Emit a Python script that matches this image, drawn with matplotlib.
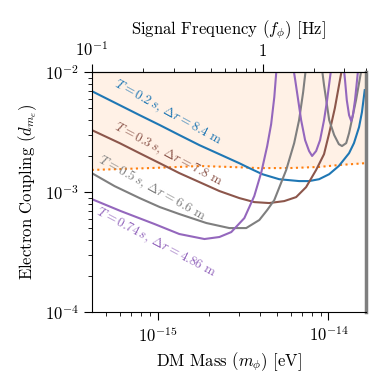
import numpy as np
import matplotlib
matplotlib.use('Agg')
import matplotlib.pyplot as plt
from matplotlib.ticker import NullFormatter

plt.rcParams['font.family'] = 'serif'
plt.rcParams['font.serif'] = ['cmr10']
plt.rcParams['mathtext.fontset'] = 'cm'
plt.rcParams['axes.unicode_minus'] = False
plt.rcParams['axes.formatter.use_mathtext'] = True

# mass in units of 1e-15 eV, coupling in units of 1e-3
# T = 0.2 s
m_blue = [0.412, 0.459, 0.600, 0.785, 1.03, 1.34, 1.76, 2.30, 3.01, 3.44, 4.10,
          5.15, 6.73, 7.70, 8.81, 10.1, 11.5, 13.2, 14.1, 15.1, 15.7, 16.3]
d_blue = [6.95, 6.43, 5.31, 4.38, 3.62, 2.99, 2.46, 2.07, 1.74, 1.585, 1.41,
          1.28, 1.235, 1.235, 1.28, 1.41, 1.65, 2.11, 2.56, 3.48, 4.64, 7.08]

# T = 0.3 s
m_brown = [0.412, 0.600, 0.785, 1.03, 1.34, 1.76, 2.30, 3.01, 3.68, 4.50, 5.51,
           6.47, 7.40, 8.47, 9.42, 10.1, 10.9, 11.9, 12.2]
d_brown = [3.29, 2.56, 2.11, 1.74, 1.44, 1.21, 1.02, 0.891, 0.825, 0.810, 0.841,
           0.908, 1.10, 1.53, 2.07, 3.10, 5.01, 10.0, 12.6]

# T = 0.5 s (two branches)
m_gray = [0.412, 0.561, 0.785, 1.03, 1.34, 1.93, 2.63, 3.30, 3.94, 4.38, 4.82,
          5.66, 6.30, 6.73, 7.11, 7.40]
d_gray = [1.44, 1.12, 0.891, 0.750, 0.656, 0.552, 0.501, 0.501, 0.585, 0.708, 0.858,
          1.53, 2.56, 3.98, 6.81, 11.2]
m_gray2 = [9.06, 9.42, 10.1, 10.8, 11.5, 12.0, 12.7, 13.2, 13.7, 14.5, 15.5, 15.7]
d_gray2 = [12.1, 7.79, 3.98, 2.99, 2.51, 2.42, 2.56, 3.10, 3.98, 5.85, 10.0, 11.7]

# T = 0.74 s (three branches)
m_purple = [0.412, 0.608, 0.961, 1.34, 1.88, 2.30, 2.70, 3.22, 3.68, 4.05, 4.38,
            4.62, 4.82, 4.95, 5.01]
d_purple = [0.874, 0.695, 0.541, 0.447, 0.406, 0.422, 0.464, 0.607, 0.926, 1.47, 2.42,
            3.69, 6.19, 10.0, 12.1]
m_purple2 = [6.13, 6.39, 6.65, 6.92, 7.30, 7.70, 8.02, 8.47, 8.93, 9.42, 9.82, 10.2, 10.5]
d_purple2 = [12.6, 8.58, 5.85, 3.98, 2.71, 2.20, 2.00, 2.20, 2.71, 3.98, 5.85, 8.91, 12.1]
m_purple3 = [12.2, 12.5, 12.8, 13.2, 13.6, 13.9, 14.3, 14.7, 15.1]
d_purple3 = [12.1, 8.58, 5.85, 4.38, 3.91, 4.38, 5.85, 8.58, 12.6]

# existing bound (dotted) and excluded region above it
m_bound = [0.412, 0.600, 0.898, 1.34, 1.76, 2.63, 3.94, 5.89, 8.81, 11.5, 16.3]
d_bound = [1.53, 1.555, 1.585, 1.62, 1.65, 1.62, 1.585, 1.585, 1.62, 1.68, 1.74]

labels = [r'$T = 0.2\,s$, $\Delta r = 8.4$ m',
          r'$T = 0.3\,s$, $\Delta r = 7.8$ m',
          r'$T = 0.5\,s$, $\Delta r = 6.6$ m',
          r'$T = 0.74\,s$, $\Delta r = 4.86$ m']

eV_to_Hz = 2.418e14


def arr(v, scale):
    return np.array(v) * scale


fig = plt.figure(figsize=(3.9, 3.9), dpi=100)
ax = fig.add_axes([0.236, 0.2, 0.702, 0.615])

ax.fill_between(arr(m_bound, 1e-15), arr(d_bound, 1e-3), 1e-2,
                color='tab:orange', alpha=0.1, lw=0)
ax.plot(arr(m_bound, 1e-15), arr(d_bound, 1e-3), ':', color='tab:orange', lw=1.5)

ax.plot(arr(m_blue, 1e-15), arr(d_blue, 1e-3), color='tab:blue', lw=1.5)
ax.plot(arr(m_brown, 1e-15), arr(d_brown, 1e-3), color='tab:brown', lw=1.5)
ax.plot(arr(m_gray, 1e-15), arr(d_gray, 1e-3), color='tab:gray', lw=1.5)
ax.plot(arr(m_gray2, 1e-15), arr(d_gray2, 1e-3), color='tab:gray', lw=1.5)
ax.plot(arr(m_purple, 1e-15), arr(d_purple, 1e-3), color='tab:purple', lw=1.5)
ax.plot(arr(m_purple2, 1e-15), arr(d_purple2, 1e-3), color='tab:purple', lw=1.5)
ax.plot(arr(m_purple3, 1e-15), arr(d_purple3, 1e-3), color='tab:purple', lw=1.5)

ax.set_xscale('log')
ax.set_yscale('log')
ax.set_xlim(0.1 / eV_to_Hz, 4 / eV_to_Hz)
ax.set_ylim(1e-4, 1e-2)
ax.set_xticks([1e-15, 1e-14])
ax.set_yticks([1e-4, 1e-3, 1e-2])

# labels along the curves
ax.text(1.14e-15, 4.55e-3, labels[0], color='tab:blue', rotation=-29,
        ha='center', va='center', fontsize=9.5)
ax.text(1.16e-15, 2.03e-3, labels[1], color='tab:brown', rotation=-28,
        ha='center', va='center', fontsize=9.5)
ax.text(0.923e-15, 1.08e-3, labels[2], color='tab:gray', rotation=-29,
        ha='center', va='center', fontsize=9.5)
ax.text(0.973e-15, 3.76e-4, labels[3], color='tab:purple', rotation=-28,
        ha='center', va='center', fontsize=9.5)

ax.set_xlabel(r'DM Mass ($m_\phi$) [eV]', fontsize=12)
ax.set_ylabel(r'Electron Coupling ($d_{m_e}$)', fontsize=12)
ax.tick_params(labelsize=12, length=6)
ax.tick_params(which='minor', length=3)
ax.xaxis.set_minor_formatter(NullFormatter())
ax.spines['right'].set_color('tab:gray')
ax.spines['right'].set_linewidth(2.5)

sec = ax.secondary_xaxis('top', functions=(lambda m: m * eV_to_Hz,
                                           lambda f: f / eV_to_Hz))
sec.set_xticks([0.1, 1], labels=[r'$10^{-1}$', r'$1$'])
sec.xaxis.set_minor_formatter(NullFormatter())
sec.set_xlabel(r'Signal Frequency ($f_\phi$) [Hz]', fontsize=12)
sec.tick_params(labelsize=12, length=6)
sec.tick_params(which='minor', length=3)

fig.savefig('out.png', dpi=100)
